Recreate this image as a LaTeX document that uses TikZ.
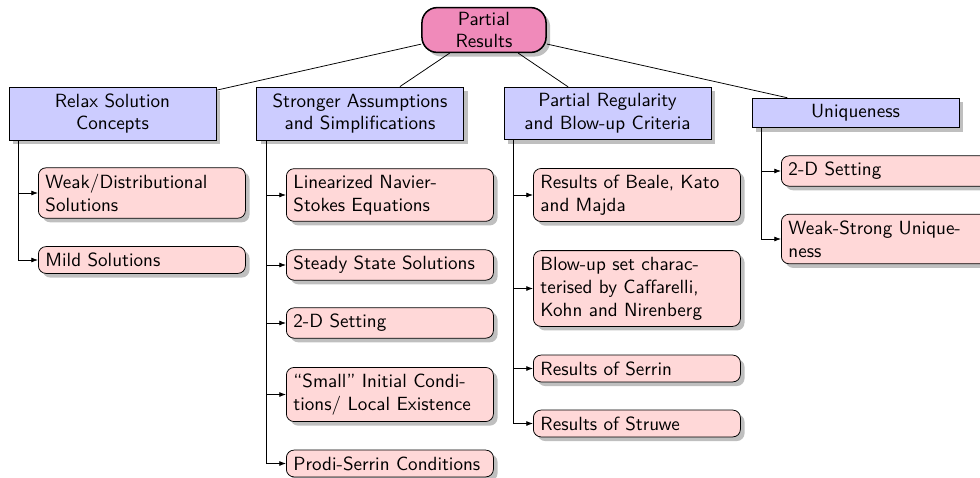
\documentclass[tikz,border=0pt]{standalone}
\usetikzlibrary{shadows,arrows.meta}
\definecolor{rootpink}{RGB}{240,138,186}
\definecolor{leafpink}{RGB}{255,216,216}
\definecolor{catblue}{RGB}{204,204,255}
\begin{document}
\begin{tikzpicture}[x=0.5236pt,y=-0.5236pt,font=\sffamily,
  rootbox/.style={draw,thick,fill=rootpink,rounded corners=8pt,align=center,
    minimum width=65pt,inner ysep=2.2pt,drop shadow},
  catbox/.style={draw,fill=catblue,text width=101pt,align=center,
    minimum width=108.4pt,drop shadow},
  leafbox/.style={draw,fill=leafpink,rounded corners=4pt,text width=101pt,align=left,
    minimum width=108.4pt,anchor=west,drop shadow},
  fork/.style={-{Latex[length=3.5pt,width=2.6pt]}},
]
\useasboundingbox (0,0) rectangle (980,478);
% root
\node[rootbox] (root) at (484,30) {Partial\\Results};
% categories
\node[catbox] (relax) at (112.5,113.5) {Relax Solution\\Concepts};
\node[catbox] (strong) at (360,113.5) {Stronger Assumptions\\and Simplifications};
\node[catbox] (partial) at (607.5,113.5) {Partial Regularity\\and Blow-up Criteria};
\node[catbox] (uniq) at (855.5,113) {Uniqueness};
\foreach \c in {relax,strong,partial,uniq} \draw (root) -- (\c);
% relax children
\node[leafbox] (weak) at (38,193) {Weak/Distributional Solutions};
\node[leafbox] (mild) at (38,260) {Mild Solutions};
% stronger children
\node[leafbox] (lin) at (286,195) {Linearized Navier-Stokes Equations};
\node[leafbox] (steady) at (286,265) {Steady State Solutions};
\node[leafbox] (twod) at (286,323) {2-D Setting};
\node[leafbox] (small) at (286,394.5) {“Small” Initial Conditions/ Local Existence};
\node[leafbox] (prodi) at (286,463.5) {Prodi-Serrin Conditions};
% partial children
\node[leafbox] (bkm) at (533,195) {Results of Beale, Kato and Majda};
\node[leafbox] (ckn) at (533,288.5) {Blow-up set characterised by Caffarelli, Kohn and Nirenberg};
\node[leafbox] (serrin) at (533,368.5) {Results of Serrin};
\node[leafbox] (struwe) at (533,423.5) {Results of Struwe};
% uniqueness children
\node[leafbox] (utwod) at (781,171) {2-D Setting};
\node[leafbox] (wsu) at (781,239) {Weak-Strong Uniqueness};
% fork connectors
\foreach \p/\c in {relax/weak,relax/mild,strong/lin,strong/steady,strong/twod,strong/small,strong/prodi,partial/bkm,partial/ckn,partial/serrin,partial/struwe,uniq/utwod,uniq/wsu}
  \draw[fork] ([xshift=5.2pt]\p.south west) |- (\c.west);
\end{tikzpicture}
\end{document}
